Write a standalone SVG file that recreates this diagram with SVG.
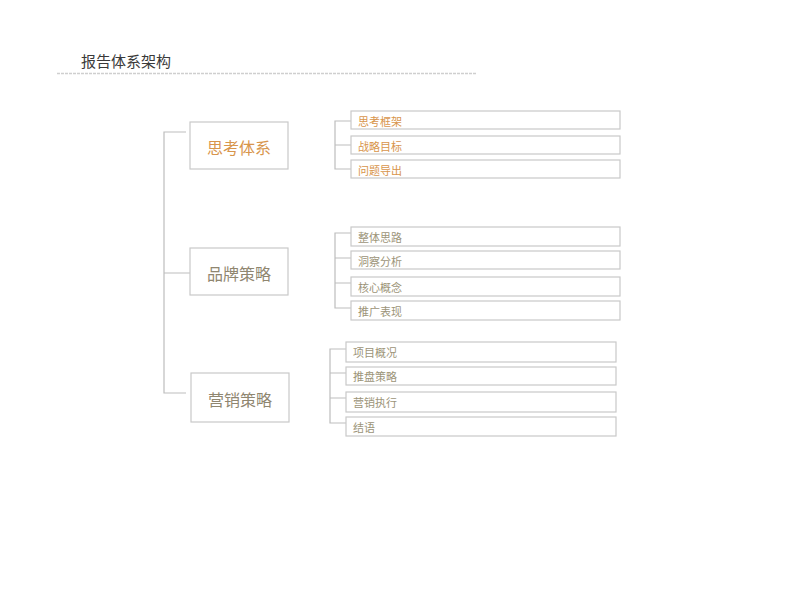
<svg xmlns="http://www.w3.org/2000/svg" width="800" height="600" viewBox="0 0 800 600">
<style>
.box{fill:#fff;stroke:#c9c9c9;stroke-width:1.2}
.ln{fill:none;stroke:#bdbdbd;stroke-width:1.2}
.cjk{font-family:"Liberation Serif","Noto Sans CJK SC",serif}
.main{font-size:16px;text-anchor:middle}
.sub{font-size:11px}
.o{fill:#d8954c}
.g{fill:#8f8670}
.g2{fill:#9c9478}
</style>
<rect width="800" height="600" fill="#fff"/>
<g id="title">
<text x="81" y="67" class="cjk" font-size="15" fill="#3a3a3a">报告体系架构</text>
<line x1="57" y1="73.5" x2="477" y2="73.5" stroke="#cfcfcf" stroke-width="1.5" stroke-dasharray="3 1"/>
</g>
<g id="connectors">
<path class="ln" d="M186 132 H164 V393 H186 M164 273 H190"/>
<path class="ln" d="M351 121 H335 V169 H351 M335 145 H351"/>
<path class="ln" d="M351 233 H335 V308 H351 M335 258 H351 M335 283 H351"/>
<path class="ln" d="M346 349 H330 V423 H346 M330 373 H346 M330 398 H346"/>
</g>
<g id="n1"><rect class="box" x="190" y="122" width="98" height="47"/><text class="cjk main o" x="239" y="154">思考体系</text></g>
<g id="n2"><rect class="box" x="190" y="248" width="98" height="47"/><text class="cjk main g" x="239" y="280">品牌策略</text></g>
<g id="n3"><rect class="box" x="191" y="373" width="98" height="49"/><text class="cjk main g" x="240" y="406">营销策略</text></g>
<g id="s1a"><rect class="box" x="351" y="111" width="269" height="18"/><text class="cjk sub o" x="358" y="126">思考框架</text></g>
<g id="s1b"><rect class="box" x="351" y="136" width="269" height="18"/><text class="cjk sub o" x="358" y="151">战略目标</text></g>
<g id="s1c"><rect class="box" x="351" y="160" width="269" height="18"/><text class="cjk sub o" x="358" y="175">问题导出</text></g>
<g id="s2a"><rect class="box" x="351" y="227" width="269" height="19"/><text class="cjk sub g2" x="358" y="242">整体思路</text></g>
<g id="s2b"><rect class="box" x="351" y="251" width="269" height="18"/><text class="cjk sub g2" x="358" y="266">洞察分析</text></g>
<g id="s2c"><rect class="box" x="351" y="277" width="269" height="19"/><text class="cjk sub g2" x="358" y="292">核心概念</text></g>
<g id="s2d"><rect class="box" x="351" y="301" width="269" height="19"/><text class="cjk sub g2" x="358" y="316">推广表现</text></g>
<g id="s3a"><rect class="box" x="346" y="342" width="270" height="20"/><text class="cjk sub g2" x="353" y="357">项目概况</text></g>
<g id="s3b"><rect class="box" x="346" y="367" width="270" height="18"/><text class="cjk sub g2" x="353" y="381">推盘策略</text></g>
<g id="s3c"><rect class="box" x="346" y="392" width="270" height="20"/><text class="cjk sub g2" x="353" y="407">营销执行</text></g>
<g id="s3d"><rect class="box" x="346" y="417" width="270" height="19"/><text class="cjk sub g2" x="353" y="432">结语</text></g>
</svg>
